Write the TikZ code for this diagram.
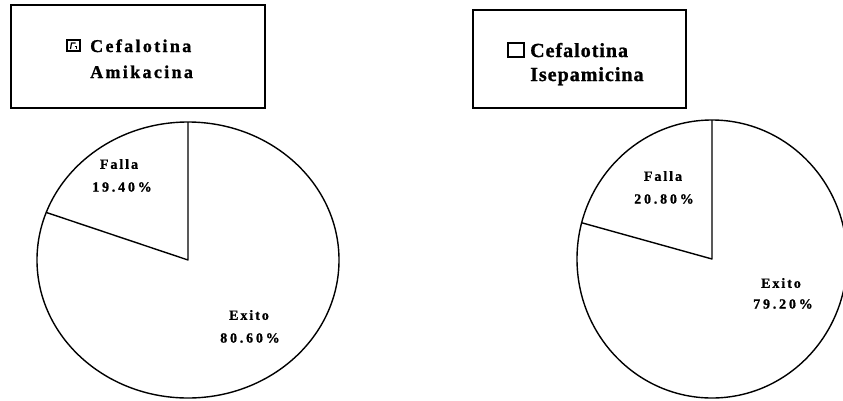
\documentclass[tikz,border=0pt]{standalone}
\usepackage{fontspec}
\setmainfont{Liberation Serif}
\newfontfamily\legLfont[LetterSpace=13,FakeBold=1.2]{Liberation Serif Bold}
\newfontfamily\legRfont[LetterSpace=5,FakeBold=1.2]{Liberation Serif Bold}
\newfontfamily\pielblfont[LetterSpace=14,FakeBold=1]{Liberation Serif Bold}
\newfontfamily\pienumfont[LetterSpace=20,FakeBold=1]{Liberation Serif Bold}
\begin{document}
\begin{tikzpicture}[x=1pt,y=-1pt,
  legbox/.style={draw,line width=1.3pt},
  pieline/.style={draw,line width=1.4pt,line join=round},
  legL/.style={font=\legLfont\fontsize{18}{20}\selectfont,inner sep=0pt,anchor=base west},
  legR/.style={font=\legRfont\fontsize{20}{24}\selectfont,inner sep=0pt,anchor=base west},
  plbl/.style={font=\pielblfont\fontsize{14}{16}\selectfont,inner sep=0pt,anchor=center},
  pnum/.style={font=\pienumfont\fontsize{14}{16}\selectfont,inner sep=0pt,anchor=center}]
\useasboundingbox (0,0) rectangle (843,400);
\clip (0,0) rectangle (843,400);
\fill[white] (0,0) rectangle (843,400);

% ---- left legend ----
\node[legbox,minimum width=254pt,minimum height=103pt,inner sep=0pt] (boxL) at (138,56.5) {};
\draw[line width=1.3pt] (67,40) rectangle (80,51);
\draw[line width=1.2pt] (70.5,49) -- (71.5,43) -- (75.5,43);
\draw[line width=1pt] (74.5,46) -- (76.5,46) -- (76.5,49);
\node[legL] (cefL) at (90,52) {Cefalotina};
\node[legL] (amiL) at (90,78) {Amikacina};

% ---- right legend ----
\node[legbox,minimum width=213pt,minimum height=98pt,inner sep=0pt] (boxR) at (579.5,59) {};
\draw[line width=1.3pt] (508,43) rectangle (524,57);
\node[legR] (cefR) at (530,57) {Cefalotina};
\node[legR] (iseR) at (530,81) {Isepamicina};

% ---- left pie ----
\coordinate (cL) at (188,260);
\draw[pieline] (cL) ellipse [x radius=151pt, y radius=138pt];
\path (cL) ++(90:151pt and 138pt) coordinate (tL);
\path (cL) ++(159.84:151pt and 138pt) coordinate (fL);
\draw[pieline] (tL) -- (cL) -- (fL);
\node[plbl] (fallaL) at (119,164) {Falla};
\node[pnum] (pfL) at (122,187) {19.40\%};
\node[plbl] (exitoL) at (249,315) {Exito};
\node[pnum] (peL) at (250,338) {80.60\%};

% ---- right pie ----
\coordinate (cR) at (712,259);
\draw[pieline] (cR) ellipse [x radius=135pt, y radius=139pt];
\path (cR) ++(90:135pt and 139pt) coordinate (tR);
\path (cR) ++(164.88:135pt and 139pt) coordinate (fR);
\draw[pieline] (tR) -- (cR) -- (fR);
\node[plbl] (fallaR) at (663,176) {Falla};
\node[pnum] (pfR) at (664,199) {20.80\%};
\node[plbl] (exitoR) at (781,283) {Exito};
\node[pnum] (peR) at (783,304) {79.20\%};
\end{tikzpicture}
\end{document}
